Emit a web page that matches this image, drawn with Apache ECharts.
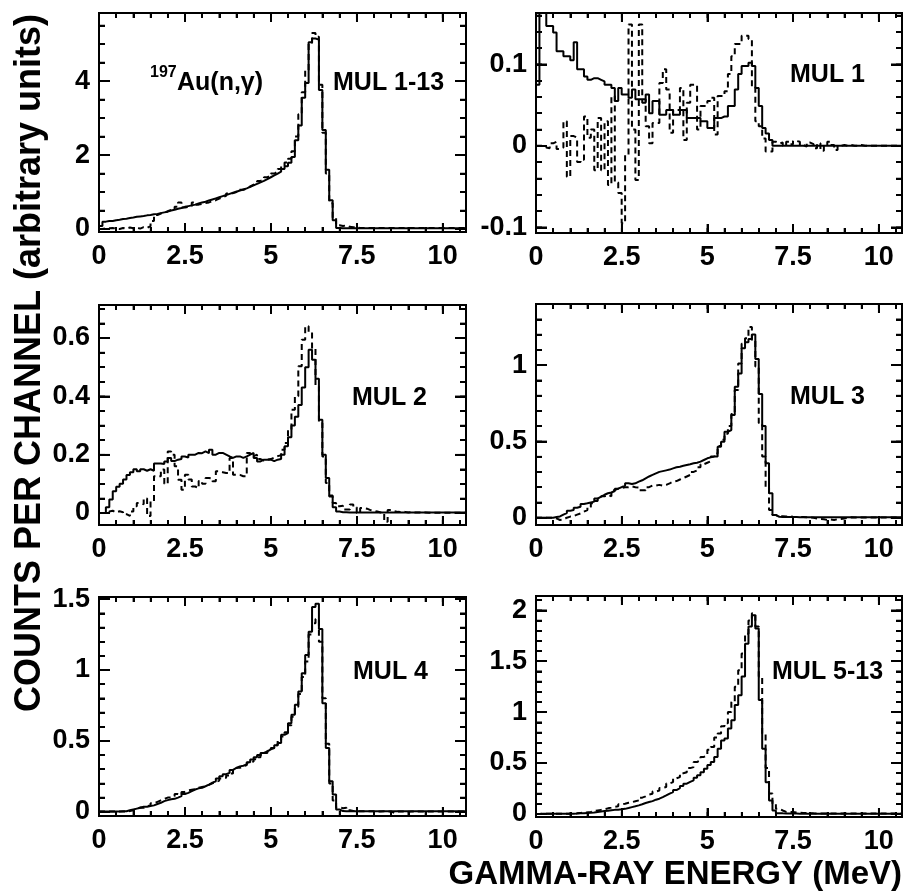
<!DOCTYPE html>
<html><head><meta charset="utf-8">
<script src="https://cdn.jsdelivr.net/npm/echarts@6/dist/echarts.min.js"></script>
<style>html,body{margin:0;padding:0;background:#fff}#chart{width:905px;height:893px;background:#fff}</style>
</head><body><div id="chart"></div>
<script>
// ---------------- data ----------------
const binWidth = 0.1;            // MeV per channel
const xMin = 0, xMax = 10.68;
// tick specification: [first, last, step]
const xMajorTicks = [0, 10, 2.5];
const xMinorTicks = [0, 10.5, 0.5];
const panelLabels = ['MUL 1-13','MUL 1','MUL 2','MUL 3','MUL 4','MUL 5-13'];
const yRanges = [[-0.08,5.84],[-0.107,0.163],[-0.041,0.713],[-0.048,1.40],[-0.03,1.515],[-0.03,2.14]];
const yMajorTicks = [[0,4,2],[-0.1,0.1,0.1],[0,0.6,0.2],[0,1,0.5],[0,1.5,0.5],[0,2,0.5]];
const yMinorTicks = [[0,5.5,0.5],[-0.1,0.16,0.02],[0,0.7,0.05],[0,1.3,0.1],[0,1.4,0.1],[0,2.1,0.1]];

// counts per channel, channels of 0.1 MeV starting at 0
const mul1to13Solid = [0.08,0.2,0.22,0.22,0.24,0.25,0.27,0.28,0.3,0.31,
 0.33,0.34,0.35,0.37,0.38,0.4,0.41,0.43,0.45,0.47,
 0.5,0.52,0.55,0.57,0.6,0.62,0.64,0.66,0.69,0.72,
 0.74,0.77,0.8,0.83,0.86,0.89,0.92,0.95,0.98,1.01,
 1.04,1.07,1.1,1.14,1.18,1.22,1.26,1.3,1.35,1.4,
 1.45,1.5,1.55,1.62,1.7,1.79,1.95,2.4,2.8,3.55,
 3.95,5.05,5.15,5.12,3.76,2.68,1.6,0.78,0.24,0.03,
 0.02,0.02,0.02,0.02,0.02,0.02,0.02,0.02,0.02,0.02,
 0.02,0.02,0.02,0.02,0.02,0.02,0.02,0.02,0.02,0.02,
 0.02,0.02,0.02,0.02,0.02,0.02,0.02,0.02,0.02,0.02,
 0.02,0.02,0.02,0.02,0.02,0.02,0.02];
const mul1to13Dashed = [0.0,0.02,0.02,0.03,0.01,0.0,0.03,0.01,0.04,0.02,
 0.04,0.01,0.05,0.03,0.08,0.22,0.38,0.42,0.44,0.48,
 0.52,0.5,0.6,0.72,0.58,0.6,0.62,0.72,0.66,0.68,
 0.7,0.72,0.75,0.78,0.82,0.86,0.9,0.96,0.97,1.0,
 1.06,1.06,1.1,1.15,1.2,1.24,1.3,1.34,1.4,1.44,
 1.5,1.55,1.62,1.7,1.8,1.9,2.1,2.5,3.1,3.7,
 4.3,5.0,5.3,5.2,3.9,2.6,1.5,0.7,0.3,0.1,
 0.08,0.1,0.06,0.05,0.04,0.03,0.03,0.03,0.03,0.03,
 0.03,0.03,0.03,0.03,0.03,0.03,0.03,0.03,0.03,0.03,
 0.03,0.03,0.03,0.03,0.03,0.03,0.03,0.03,0.03,0.03,
 0.03,0.03,0.03,0.03,0.03,0.03,0.03];

const mul1Solid = [0.075,0.25,0.25,0.147,0.147,0.139,0.116,0.116,0.11,0.11,
 0.105,0.127,0.094,0.094,0.085,0.081,0.083,0.083,0.081,0.079,
 0.075,0.075,0.071,0.055,0.071,0.063,0.063,0.059,0.069,0.057,
 0.057,0.053,0.063,0.04,0.055,0.055,0.038,0.038,0.044,0.044,
 0.038,0.038,0.044,0.044,0.034,0.034,0.034,0.034,0.03,0.03,
 0.022,0.022,0.034,0.034,0.036,0.036,0.049,0.049,0.069,0.088,
 0.098,0.098,0.102,0.098,0.071,0.049,0.022,0.015,0.007,0.0,
 0,0,0,0,0,0,0,0,0,0,
 0,0,0,0,0,0,0,0,0,0,
 0,0,0,0,0,0,0,0,0,0,
 0,0,0,0,0,0,0];
const mul1Dashed = [0.0,0.0,-0.002,-0.003,0.003,0.005,-0.004,-0.002,0.03,-0.038,
 0.012,0.01,-0.02,-0.017,0.036,0.01,0.02,-0.03,0.034,-0.03,
 0.03,-0.048,0.061,-0.045,-0.058,-0.095,-0.011,0.149,0.02,-0.042,
 0.149,0.057,0.024,0.003,0.028,0.028,0.077,0.094,0.069,0.016,
 0.044,0.044,0.071,0.007,0.053,0.075,0.075,0.02,0.049,0.049,
 0.055,0.059,0.014,0.061,0.061,0.067,0.088,0.11,0.125,0.125,
 0.135,0.135,0.131,0.073,0.03,0.024,0.009,-0.007,-0.007,0.005,
 0.003,0.004,0.0,0.005,0.002,0.006,0.005,0.001,-0.001,0.004,
 0.002,-0.003,0.003,-0.006,0.001,0.005,0.001,-0.005,0.0,0.001,
 0.0,0.001,0.0,0.0,0.001,0.0,0.0,0.0,0.0,0.0,
 0,0,0,0,0,0,0];

const mul2Solid = [0.0,0.0,0.02,0.046,0.075,0.09,0.1,0.115,0.13,0.14,
 0.15,0.143,0.15,0.145,0.15,0.145,0.17,0.17,0.168,0.177,
 0.189,0.178,0.183,0.185,0.194,0.19,0.2,0.2,0.206,0.205,
 0.211,0.205,0.217,0.2,0.206,0.206,0.2,0.194,0.189,0.194,
 0.194,0.189,0.194,0.2,0.206,0.189,0.177,0.183,0.183,0.183,
 0.178,0.183,0.185,0.2,0.229,0.26,0.3,0.33,0.37,0.43,
 0.5,0.56,0.525,0.46,0.32,0.2,0.12,0.06,0.02,0.005,
 0.003,0.003,0.002,0.002,0.002,0.002,0.002,0.002,0.002,0.002,
 0.002,0.002,0.002,0.002,0.002,0.002,0.002,0.002,0.002,0.002,
 0.002,0.002,0.002,0.002,0.002,0.002,0.002,0.002,0.002,0.002,
 0.002,0.002,0.002,0.002,0.002,0.002,0.002];
const mul2Dashed = [0.0,0.0,0.005,0.008,0.002,0.006,0.003,-0.004,-0.01,0.005,
 0.023,0.034,0.03,0.05,-0.01,0.04,0.126,0.126,0.149,0.1,
 0.211,0.2,0.16,0.114,0.08,0.131,0.115,0.091,0.085,0.11,
 0.1,0.12,0.118,0.109,0.143,0.14,0.137,0.137,0.189,0.131,
 0.131,0.126,0.126,0.206,0.195,0.2,0.185,0.18,0.183,0.185,
 0.19,0.195,0.198,0.217,0.24,0.286,0.354,0.4,0.503,0.594,
 0.64,0.62,0.566,0.434,0.309,0.194,0.103,0.057,0.034,0.023,
 0.025,0.012,0.012,0.029,0.02,0.0,0.017,0.015,0.01,0.008,
 0.005,0.002,0.0,-0.03,0.01,0.006,0.004,0.003,0.004,0.002,
 0.003,0.002,0.002,0.001,0.002,0.001,0.001,0.001,0.001,0.001,
 0.001,0.001,0.001,0.001,0.001,0.001,0.001];

const mul3Solid = [0,0,0,0,0,0.005,0.008,0.02,0.03,0.045,
 0.05,0.065,0.072,0.09,0.094,0.1,0.105,0.125,0.138,0.15,
 0.16,0.165,0.175,0.19,0.2,0.21,0.225,0.22,0.225,0.236,
 0.245,0.258,0.27,0.28,0.29,0.3,0.305,0.31,0.315,0.323,
 0.33,0.334,0.34,0.345,0.35,0.356,0.36,0.367,0.378,0.389,
 0.395,0.4,0.4,0.465,0.498,0.563,0.574,0.672,0.858,0.945,
 1.11,1.15,1.17,1.2,1.04,0.81,0.6,0.356,0.16,0.017,
 0.006,0.005,0.005,0.004,0.004,0.004,0.003,0.003,0.003,0.003,
 0.003,0.003,0.003,0.003,0.003,0.003,0.003,0.003,0.003,0.003,
 0.003,0.003,0.003,0.003,0.003,0.003,0.003,0.003,0.003,0.003,
 0.003,0.003,0.003,0.003,0.003,0.003,0.003];
const mul3Dashed = [0,0,0,0,0,-0.005,-0.015,-0.012,0.0,0.007,
 0.01,0.02,0.028,0.04,0.05,0.07,0.094,0.11,0.125,0.14,
 0.15,0.14,0.18,0.19,0.195,0.2,0.2,0.205,0.2,0.198,
 0.18,0.18,0.2,0.21,0.21,0.215,0.21,0.215,0.225,0.236,
 0.24,0.25,0.26,0.27,0.28,0.3,0.31,0.33,0.35,0.36,
 0.37,0.4,0.42,0.47,0.51,0.55,0.6,0.68,0.836,1.01,
 1.14,1.175,1.25,1.16,0.99,0.62,0.4,0.2,0.05,0.017,
 0.01,0.01,0.008,0.008,0.006,0.005,0.005,0.004,0.003,0.002,
 0.0,-0.005,-0.008,-0.01,-0.015,-0.012,-0.015,-0.01,-0.008,-0.005,
 0.0,0.002,0.001,0.002,0.001,0.001,0.002,0.001,0.001,0.001,
 0.001,0.001,0.001,0.001,0.001,0.001,0.001];

const mul4Solid = [0.002,0.002,0.002,0.002,0.002,0.002,0.003,0.003,0.01,0.016,
 0.022,0.028,0.035,0.035,0.04,0.045,0.055,0.063,0.075,0.082,
 0.088,0.091,0.1,0.11,0.125,0.133,0.145,0.157,0.165,0.169,
 0.18,0.192,0.205,0.215,0.235,0.25,0.265,0.274,0.295,0.309,
 0.32,0.325,0.333,0.35,0.368,0.385,0.4,0.415,0.426,0.44,
 0.45,0.47,0.485,0.543,0.555,0.625,0.684,0.754,0.848,0.977,
 1.105,1.27,1.445,1.468,1.29,0.766,0.45,0.215,0.122,0.016,
 0.005,0.004,0.004,0.003,0.003,0.003,0.003,0.003,0.003,0.003,
 0.003,0.003,0.003,0.003,0.003,0.003,0.003,0.003,0.003,0.003,
 0.003,0.003,0.003,0.003,0.003,0.003,0.003,0.003,0.003,0.003,
 0.003,0.003,0.003,0.003,0.003,0.003,0.003];
const mul4Dashed = [0.002,0.002,0.002,0.002,0.002,0.002,0.002,0.002,0.005,0.01,
 0.02,0.03,0.028,0.04,0.045,0.06,0.07,0.08,0.09,0.1,
 0.1,0.11,0.125,0.12,0.14,0.15,0.155,0.16,0.17,0.175,
 0.18,0.19,0.2,0.21,0.22,0.235,0.24,0.255,0.27,0.29,
 0.31,0.32,0.33,0.345,0.355,0.37,0.385,0.4,0.415,0.43,
 0.45,0.47,0.5,0.53,0.56,0.61,0.67,0.74,0.83,0.95,
 1.06,1.25,1.33,1.36,1.2,0.8,0.48,0.2,0.08,0.03,
 0.025,0.028,0.01,0.005,0.004,0.004,0.003,0.003,0.003,0.003,
 0.002,0.002,0.003,0.001,0.002,-0.01,0.001,0.002,0.001,0.0,
 0.001,0.001,0.001,0.001,0.001,0.001,0.001,0.001,0.001,0.001,
 0.001,0.001,0.001,0.001,0.001,0.001,0.001];

const mul5to13Solid = [0.0,0.001,0.001,0.001,0.001,0.001,0.001,0.002,0.002,0.002,
 0.003,0.004,0.006,0.008,0.01,0.012,0.015,0.02,0.024,0.028,
 0.032,0.036,0.04,0.042,0.045,0.05,0.058,0.067,0.075,0.084,
 0.095,0.107,0.117,0.126,0.14,0.15,0.165,0.182,0.2,0.215,
 0.235,0.254,0.275,0.297,0.315,0.33,0.355,0.38,0.41,0.444,
 0.48,0.51,0.56,0.64,0.72,0.74,0.84,0.92,1.07,1.166,
 1.35,1.67,1.84,1.95,1.82,1.12,0.64,0.31,0.133,0.034,
 0.008,0.006,0.005,0.005,0.004,0.004,0.003,0.003,0.003,0.003,
 0.003,0.003,0.003,0.003,0.003,0.003,0.003,0.003,0.003,0.003,
 0.003,0.003,0.003,0.003,0.003,0.003,0.003,0.003,0.003,0.003,
 0.003,0.003,0.003,0.003,0.003,0.003,0.003];
const mul5to13Dashed = [0.0,0.002,0.002,0.002,0.002,0.002,0.002,0.002,0.002,0.003,
 0.004,0.006,0.01,0.013,0.016,0.02,0.03,0.035,0.04,0.045,
 0.055,0.062,0.07,0.075,0.095,0.1,0.11,0.116,0.125,0.133,
 0.16,0.172,0.19,0.198,0.22,0.23,0.255,0.264,0.3,0.313,
 0.35,0.362,0.4,0.41,0.45,0.46,0.51,0.526,0.56,0.575,
 0.63,0.657,0.75,0.79,0.86,0.89,1.0,1.1,1.25,1.41,
 1.575,1.77,1.9,1.97,1.84,1.35,0.79,0.45,0.2,0.1,
 0.05,0.034,0.02,0.018,0.018,0.015,0.012,0.01,0.008,0.008,
 0.006,0.005,0.005,0.005,0.004,0.004,0.004,0.004,0.004,0.004,
 0.004,0.004,0.004,0.004,0.004,0.004,0.004,0.004,0.004,0.004,
 0.004,0.004,0.004,0.004,0.004,0.004,0.004];

const solidSeries = [mul1to13Solid, mul1Solid, mul2Solid, mul3Solid, mul4Solid, mul5to13Solid];
const dashedSeries = [mul1to13Dashed, mul1Dashed, mul2Dashed, mul3Dashed, mul4Dashed, mul5to13Dashed];

// ---------------- layout ----------------
const FONT = "Liberation Sans, Arial, sans-serif";
const frames = [
  {left: 99, top: 13, width: 367, height: 219},
  {left: 536, top: 13, width: 366, height: 220},
  {left: 99, top: 305, width: 367, height: 220},
  {left: 536, top: 304, width: 366, height: 221},
  {left: 99, top: 597, width: 367, height: 219},
  {left: 536, top: 596, width: 366, height: 221}
];
const labelPos = [[333,83],[790,75],[352,398],[790,397],[353,672],[772,672]];
const LEN = {xMajor: 9, xMinor: 5, yMajor: 11, yMinor: 6};

function toHist(values) {
  const pts = values.map((v, i) => [Math.round(i * binWidth * 1000) / 1000, v]);
  pts.push([Math.round(values.length * binWidth * 1000) / 1000, values[values.length - 1]]);
  return pts;
}
function tickValues(spec) {
  const out = [];
  const n = Math.round((spec[1] - spec[0]) / spec[2]);
  for (let k = 0; k <= n; k++) out.push(Math.round((spec[0] + k * spec[2]) * 1e6) / 1e6);
  return out;
}

const grids = [], xAxes = [], yAxes = [], series = [];
const labelStyle = {color: '#000', fontFamily: FONT, fontWeight: 'bold', fontSize: 27};
const hiddenAxis = (gi) => ({gridIndex: gi, type: 'value', show: false, min: 0, max: 1});
const tickAxis = (gi, pos, spec, len, withLabel, isX) => ({
  gridIndex: gi, type: 'value', position: pos,
  min: spec[0], max: spec[1], interval: spec[2],
  axisLine: {show: true, onZero: false, lineStyle: {color: '#000', width: 2}},
  axisTick: {show: true, inside: true, length: len, lineStyle: {color: '#000', width: 2}},
  axisLabel: Object.assign({show: withLabel, margin: isX ? 11 : 9}, labelStyle),
  splitLine: {show: false}
});

frames.forEach((f, p) => {
  const [y0, y1] = yRanges[p];
  const gMain = grids.length;
  grids.push({left: f.left, top: f.top, width: f.width, height: f.height,
              show: true, borderColor: '#000', borderWidth: 2});
  const xMainIdx = xAxes.length, yMainIdx = yAxes.length;
  xAxes.push({gridIndex: gMain, type: 'value', min: xMin, max: xMax, show: false});
  yAxes.push({gridIndex: gMain, type: 'value', min: y0, max: y1, show: false});

  // x tick grids: full frame height, width limited to the tick range
  [[xMajorTicks, LEN.xMajor, true], [xMinorTicks, LEN.xMinor, false]].forEach(([spec, len, lab]) => {
    const gi = grids.length;
    const l = f.left + (spec[0] - xMin) / (xMax - xMin) * f.width;
    const r = f.left + (spec[1] - xMin) / (xMax - xMin) * f.width;
    grids.push({left: l, top: f.top, width: r - l, height: f.height});
    xAxes.push(tickAxis(gi, 'bottom', spec, len, lab, true));
    xAxes.push(tickAxis(gi, 'top', spec, len, false, true));
    yAxes.push(hiddenAxis(gi));
  });
  // y tick grids: full frame width, height limited to the tick range
  [[yMajorTicks[p], LEN.yMajor, true], [yMinorTicks[p], LEN.yMinor, false]].forEach(([spec, len, lab]) => {
    const gi = grids.length;
    const t = f.top + (y1 - spec[1]) / (y1 - y0) * f.height;
    const b = f.top + (y1 - spec[0]) / (y1 - y0) * f.height;
    grids.push({left: f.left, top: t, width: f.width, height: b - t});
    yAxes.push(tickAxis(gi, 'left', spec, len, lab, false));
    yAxes.push(tickAxis(gi, 'right', spec, len, false, false));
    xAxes.push(hiddenAxis(gi));
  });

  // backup tick marks: one short two-point line per tick, in data space of the panel
  const dyPerPx = (y1 - y0) / f.height, dxPerPx = (xMax - xMin) / f.width;
  const tickLine = (a, b) => series.push({type: 'line', xAxisIndex: xMainIdx, yAxisIndex: yMainIdx,
    data: [a, b], symbol: 'none', clip: false, silent: true, z: 5,
    lineStyle: {color: '#000', width: 1.5}});
  [[xMajorTicks, LEN.xMajor], [xMinorTicks, LEN.xMinor]].forEach(([spec, len]) => {
    tickValues(spec).forEach(v => {
      tickLine([v, y0], [v, y0 + len * dyPerPx]);
      tickLine([v, y1], [v, y1 - len * dyPerPx]);
    });
  });
  [[yMajorTicks[p], LEN.yMajor], [yMinorTicks[p], LEN.yMinor]].forEach(([spec, len]) => {
    tickValues(spec).forEach(v => {
      tickLine([xMin, v], [xMin + len * dxPerPx, v]);
      tickLine([xMax, v], [xMax - len * dxPerPx, v]);
    });
  });

  series.push({
    type: 'line', xAxisIndex: xMainIdx, yAxisIndex: yMainIdx, step: 'end',
    data: toHist(dashedSeries[p]), symbol: 'none', clip: true, z: 3,
    lineStyle: {color: '#000', width: 2, type: [6, 4]}
  });
  series.push({
    type: 'line', xAxisIndex: xMainIdx, yAxisIndex: yMainIdx, step: 'end',
    data: toHist(solidSeries[p]), symbol: 'none', clip: true, z: 4,
    lineStyle: {color: '#000', width: 2}
  });
});

// helper grid carrying the rotated y title as an axis name
const gTitle = grids.length;
grids.push({left: 50, top: 5, width: 1, height: 716});
xAxes.push(hiddenAxis(gTitle));
yAxes.push({gridIndex: gTitle, type: 'value', min: 0, max: 1, position: 'left',
  name: 'COUNTS PER CHANNEL (arbitrary units)', nameLocation: 'middle', nameGap: 2, nameRotate: 90,
  nameTextStyle: {color: '#000', fontFamily: FONT, fontWeight: 'bold', fontSize: 36},
  axisLine: {show: false}, axisTick: {show: false}, axisLabel: {show: false}, splitLine: {show: false}});

const ttl = (text, size, pos) => Object.assign({text: text, padding: 0, itemGap: 0,
  textStyle: {color: '#000', fontFamily: FONT, fontWeight: 'bold', fontSize: size}}, pos);
const titles = panelLabels.map((t, p) => ttl(t, 25, {left: labelPos[p][0], top: labelPos[p][1] - 12.5}));
titles.push(ttl('197', 16, {left: 150, top: 65}));
titles.push(ttl('Au(n,\u03b3)', 25, {left: 177, top: 70.5}));
titles.push(ttl('GAMMA-RAY ENERGY (MeV)', 33, {right: 3, top: 858.5}));

const chart = echarts.init(document.getElementById('chart'), null, {renderer: 'canvas'});
chart.setOption({
  animation: false,
  title: titles,
  grid: grids,
  xAxis: xAxes,
  yAxis: yAxes,
  series: series
});
</script></body></html>
